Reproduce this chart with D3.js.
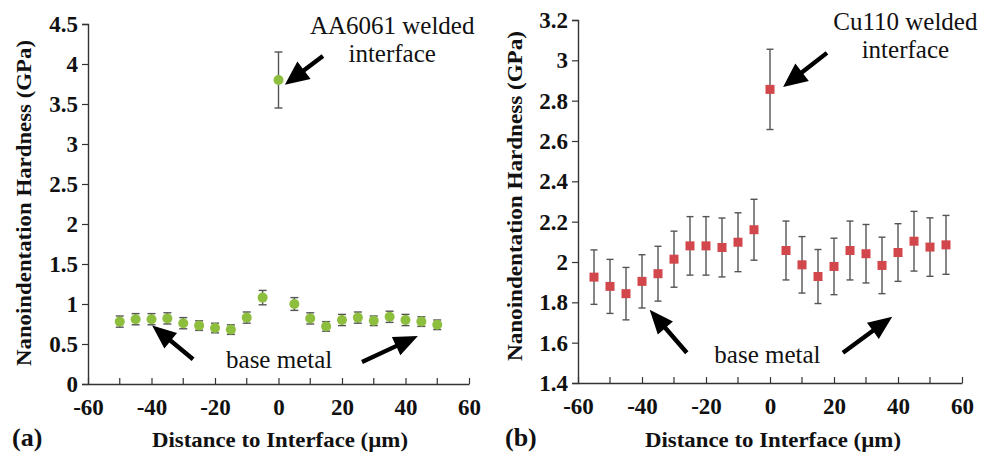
<!DOCTYPE html>
<html>
<head>
<meta charset="utf-8">
<script src="https://cdn.jsdelivr.net/npm/d3@7"></script>
<style>
  body { margin: 0; background: #fff; }
  text { font-family: "Liberation Serif", "DejaVu Serif", serif; fill: #111; }
</style>
</head>
<body>
<script>
// panel (a) AA6061
const distA = [-50,-45,-40,-35,-30,-25,-20,-15,-10,-5,0,5,10,15,20,25,30,35,40,45,50]
const hardA = [0.78,0.81,0.81,0.82,0.76,0.73,0.70,0.68,0.83,1.08,3.80,1.00,0.82,0.72,0.80,0.83,0.79,0.84,0.80,0.78,0.74]
const errA  = [0.07,0.07,0.07,0.07,0.07,0.06,0.06,0.06,0.07,0.09,0.35,0.08,0.07,0.06,0.07,0.07,0.06,0.07,0.07,0.06,0.06]
const yTicksA = [0,0.5,1,1.5,2,2.5,3,3.5,4,4.5]

// panel (b) Cu110
const distB = [-55,-50,-45,-40,-35,-30,-25,-20,-15,-10,-5,0,5,10,15,20,25,30,35,40,45,50,55]
const hardB = [1.925,1.879,1.843,1.904,1.942,2.014,2.080,2.080,2.072,2.098,2.160,2.856,2.057,1.986,1.928,1.978,2.057,2.041,1.983,2.047,2.103,2.074,2.085]
const errB  = [0.135,0.134,0.130,0.132,0.136,0.139,0.145,0.145,0.146,0.146,0.151,0.199,0.146,0.140,0.134,0.140,0.146,0.145,0.140,0.143,0.148,0.145,0.146]
const yTicksB = [1.4,1.6,1.8,2,2.2,2.4,2.6,2.8,3,3.2]

const xTicks = [-60,-40,-20,0,20,40,60]
const xMinor = [-50,-30,-10,10,30,50]

const W = 992, H = 454
const SERIF = '"Liberation Serif", "DejaVu Serif", serif'

const svg = d3.select('body').append('svg')
    .attr('width', W)
    .attr('height', H)

const drawArrow = (g, x, y, a, head) => {
    // a = [x0, y0, x1, y1] in data units, tail -> tip
    const x0 = x(a[0]), y0 = y(a[1]), x1 = x(a[2]), y1 = y(a[3])
    const dx = x1 - x0, dy = y1 - y0
    const len = Math.hypot(dx, dy)
    const ux = dx / len, uy = dy / len
    const px = -uy, py = ux
    const hl = head[0], hw = head[1], sw = 2.2
    const bx = x1 - ux * hl, by = y1 - uy * hl
    const pts = [
        [x0 + px * sw, y0 + py * sw],
        [bx + px * sw, by + py * sw],
        [bx + px * hw, by + py * hw],
        [x1, y1],
        [bx - px * hw, by - py * hw],
        [bx - px * sw, by - py * sw],
        [x0 - px * sw, y0 - py * sw]
    ]
    g.append('polygon')
        .attr('points', pts.map(p => p.join(',')).join(' '))
        .attr('fill', '#000')
}

const drawPanel = (cfg) => {
    const g = svg.append('g')

    const x = d3.scaleLinear().domain([-60, 60]).range([cfg.left, cfg.right])
    const y = d3.scaleLinear().domain(cfg.yDomain).range([cfg.bottom, cfg.top])

    // y axis
    const yAxis = g.append('g')
        .attr('transform', `translate(${cfg.left},0)`)
        .call(d3.axisLeft(y).tickValues(cfg.yTicks).tickSize(6).tickPadding(4)
            .tickFormat(d3.format('~g')))
    yAxis.attr('font-family', null)
    yAxis.select('.domain').attr('stroke', '#333').attr('stroke-width', 1.4)
    yAxis.selectAll('.tick line').attr('stroke', '#333').attr('stroke-width', 1.2)
    yAxis.selectAll('.tick text')
        .style('font-family', SERIF)
        .style('font-weight', 'bold')
        .style('font-size', '23px')
        .attr('fill', '#111')

    // x axis (inward minor ticks)
    const xAxis = g.append('g')
        .attr('transform', `translate(0,${cfg.bottom})`)
        .call(d3.axisBottom(x).tickValues(xTicks).tickSize(-6).tickSizeOuter(0).tickPadding(15)
            .tickFormat(d3.format('d')))
    xAxis.attr('font-family', null)
    xAxis.select('.domain').attr('stroke', '#333').attr('stroke-width', 1.4)
    xAxis.selectAll('.tick line').attr('stroke', '#333').attr('stroke-width', 1.2)
    xAxis.selectAll('.tick text')
        .style('font-family', SERIF)
        .style('font-weight', 'bold')
        .style('font-size', '23px')
        .attr('fill', '#111')
        .text(d => d < 0 ? '-' + Math.abs(d) : d)
    g.selectAll('line.minor')
        .data(xMinor)
        .enter()
        .append('line')
        .attr('class', 'minor')
        .attr('x1', d => x(d)).attr('x2', d => x(d))
        .attr('y1', cfg.bottom).attr('y2', cfg.bottom - 6)
        .attr('stroke', '#333').attr('stroke-width', 1.2)

    const pts = cfg.dist.map((d, i) => ({ x: d, v: cfg.hard[i], e: cfg.err[i] }))

    // error bars
    const eb = g.selectAll('g.err')
        .data(pts)
        .enter()
        .append('g')
        .attr('class', 'err')
        .attr('stroke', '#555')
        .attr('stroke-width', 1.4)
    eb.append('line')
        .attr('x1', d => x(d.x)).attr('x2', d => x(d.x))
        .attr('y1', d => y(d.v - d.e)).attr('y2', d => y(d.v + d.e))
    eb.append('line')
        .attr('x1', d => x(d.x) - cfg.cap).attr('x2', d => x(d.x) + cfg.cap)
        .attr('y1', d => y(d.v + d.e)).attr('y2', d => y(d.v + d.e))
    eb.append('line')
        .attr('x1', d => x(d.x) - cfg.cap).attr('x2', d => x(d.x) + cfg.cap)
        .attr('y1', d => y(d.v - d.e)).attr('y2', d => y(d.v - d.e))

    // markers
    if (cfg.marker === 'circle') {
        g.selectAll('circle.pt')
            .data(pts)
            .enter()
            .append('circle')
            .attr('class', 'pt')
            .attr('cx', d => x(d.x))
            .attr('cy', d => y(d.v))
            .attr('r', 5)
            .attr('fill', cfg.color)
    } else {
        g.selectAll('rect.pt')
            .data(pts)
            .enter()
            .append('rect')
            .attr('class', 'pt')
            .attr('x', d => x(d.x) - 4.5)
            .attr('y', d => y(d.v) - 4.5)
            .attr('width', 9)
            .attr('height', 9)
            .attr('fill', cfg.color)
    }

    // axis titles
    g.append('text')
        .attr('transform', `translate(${cfg.yTitleX},${cfg.yTitleY}) rotate(-90)`)
        .attr('text-anchor', 'middle')
        .attr('textLength', cfg.yTitleLen)
        .attr('lengthAdjust', 'spacingAndGlyphs')
        .style('font-family', SERIF)
        .style('font-weight', 'bold')
        .style('font-size', '21px')
        .text(cfg.yTitle)
    g.append('text')
        .attr('x', cfg.xTitleX)
        .attr('y', 447)
        .attr('text-anchor', 'middle')
        .attr('textLength', 256)
        .attr('lengthAdjust', 'spacingAndGlyphs')
        .style('font-family', SERIF)
        .style('font-weight', 'bold')
        .style('font-size', '21px')
        .text('Distance to Interface (µm)')
    g.append('text')
        .attr('x', cfg.tagX)
        .attr('y', 446)
        .style('font-family', SERIF)
        .style('font-weight', 'bold')
        .style('font-size', '26px')
        .text(cfg.tag)

    // annotations
    cfg.label.forEach((t, i) => {
        g.append('text')
            .attr('x', x(cfg.labelPos[0]))
            .attr('y', y(cfg.labelPos[1]) + i * 28)
            .attr('text-anchor', 'middle')
            .style('font-family', SERIF)
            .style('font-size', '25px')
            .text(t)
    })
    g.append('text')
        .attr('x', x(cfg.basePos[0]))
        .attr('y', y(cfg.basePos[1]))
        .attr('text-anchor', 'middle')
        .style('font-family', SERIF)
        .style('font-size', '25px')
        .text('base metal')

    drawArrow(g, x, y, cfg.arrowTop, [24, 11])
    cfg.arrowsBase.forEach(a => drawArrow(g, x, y, a, [24, 10]))
}

drawPanel({
    left: 88, right: 469, top: 24, bottom: 384,
    yDomain: [0, 4.5], yTicks: yTicksA,
    dist: distA, hard: hardA, err: errA,
    marker: 'circle', color: '#8dbe3e', cap: 4,
    yTitle: 'Nanoindentation  Hardness (GPa)', yTitleX: 31, yTitleY: 203, yTitleLen: 326,
    xTitleX: 280, tag: '(a)', tagX: 12,
    label: ['AA6061 welded', 'interface'], labelPos: [35.8, 4.37],
    basePos: [0.2, 0.2],
    arrowTop: [14.0, 4.10, 2.0, 3.74],
    arrowsBase: [[-26.9, 0.31, -39.8, 0.73], [26.3, 0.275, 43.9, 0.60]]
})

drawPanel({
    left: 578, right: 962, top: 20, bottom: 383,
    yDomain: [1.4, 3.2], yTicks: yTicksB,
    dist: distB, hard: hardB, err: errB,
    marker: 'square', color: '#d2474b', cap: 3.5,
    yTitle: 'Nanoindentation Hardness (GPa)', yTitleX: 522, yTitleY: 196, yTitleLen: 330,
    xTitleX: 773, tag: '(b)', tagX: 505,
    label: ['Cu110 welded', 'interface'], labelPos: [42.3, 3.15],
    basePos: [-0.8, 1.50],
    arrowTop: [17.8, 3.037, 4.1, 2.868],
    arrowsBase: [[-26, 1.55, -37.6, 1.763], [22.8, 1.55, 38.2, 1.729]]
})
</script>
</body>
</html>
